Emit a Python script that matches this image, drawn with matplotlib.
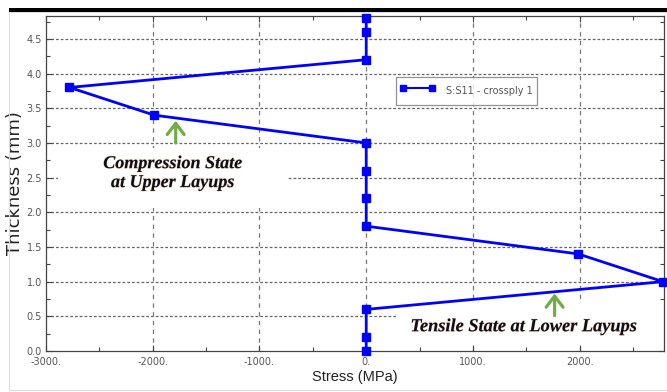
import matplotlib
matplotlib.use("Agg")
import matplotlib.pyplot as plt
from matplotlib.patches import Rectangle
from matplotlib.lines import Line2D
from matplotlib.ticker import MultipleLocator, FuncFormatter
import matplotlib.patheffects as pe

# S11 stress through the laminate thickness (crossply 1)
stress_mpa = [0, 0, 0, -2780, -1985, 0, 0, 0, 0, 1985, 2780, 0, 0, 0]
thickness_mm = [4.8, 4.6, 4.2, 3.8, 3.4, 3.0, 2.6, 2.2, 1.8, 1.4, 1.0, 0.6, 0.2, 0.0]
series_label = "S:S11 - crossply 1"
x_label = "Stress (MPa)"
y_label = "Thickness (mm)"
note_upper = "Compression State\nat Upper Layups"
note_lower = "Tensile State at Lower Layups"

W, H = 667, 392
fig = plt.figure(figsize=(W / 100, H / 100), dpi=100)
fig.patch.set_facecolor("white")

def px(x0, y0, x1, y1):
    return [x0 / W, 1 - y1 / H, (x1 - x0) / W, (y1 - y0) / H]

# thin frame and thick top bar around the figure
fig.add_artist(Rectangle((9 / W, 1 - 390 / H), (W - 9) / W, (390 - 12) / H,
                         transform=fig.transFigure, fill=False, ec="#dddddd", lw=0.8))
fig.add_artist(Rectangle((9 / W, 1 - 12.3 / H), (W - 9) / W, 4 / H,
                         transform=fig.transFigure, fc="black", ec="none"))

ax = fig.add_axes(px(46, 16, 664, 351))
ax.set_xlim(-3000, 2790)
ax.set_ylim(0, 4.83)

ax.xaxis.set_major_locator(MultipleLocator(1000))
ax.xaxis.set_minor_locator(MultipleLocator(500))
ax.yaxis.set_major_locator(MultipleLocator(0.5))
ax.yaxis.set_minor_locator(MultipleLocator(0.25))
ax.xaxis.set_major_formatter(FuncFormatter(lambda v, p: f"{v:.0f}."))
ax.yaxis.set_major_formatter(FuncFormatter(lambda v, p: f"{v:.1f}"))
ax.tick_params(which="both", direction="in", top=True, right=True,
               labelsize=7, labelcolor="#555555", color="#444444")
ax.tick_params(axis="x", pad=4.5)
ax.tick_params(axis="y", pad=3)
ax.tick_params(which="major", length=4, width=0.8)
ax.tick_params(which="minor", length=3, width=0.8)

for s in ax.spines.values():
    s.set_color("#444444")
    s.set_linewidth(0.9)

# grid: dotted horizontal, dashed vertical
ax.grid(False)
for yv in [0.5, 1.0, 1.5, 2.0, 2.5, 3.0, 3.5, 4.0, 4.5]:
    ax.axhline(yv, color="#666666", lw=0.9, ls=(0, (2.2, 1.6)), zorder=1)
for xv in [-2000, -1000, 0, 1000, 2000]:
    ax.axvline(xv, color="#777777", lw=0.9, ls=(0, (3.5, 3.5)), zorder=1)

# white panels behind the annotations
ax.add_patch(Rectangle((-2890, 2.06), 2150, 0.87, fc="white", ec="none", zorder=2))
ax.add_patch(Rectangle((290, 0.115), 2600, 0.62, fc="white", ec="none", zorder=2))

ax.plot(stress_mpa, thickness_mm, color="#0000ff", lw=2.0, marker="s",
        ms=5.5, mfc="#0000ff", mec="#0000ff", clip_on=False, zorder=5,
        label=series_label)

text_fx = [pe.withStroke(linewidth=0.9, foreground="#c08040", alpha=0.3)]
ax.text(-1815, 2.565, note_upper, ha="center", va="center", fontsize=13,
        family="Liberation Serif", style="italic", weight="bold",
        color="#0d0d1a", linespacing=1.15, zorder=6, path_effects=text_fx)
ax.text(1480, 0.35, note_lower, ha="center", va="center", fontsize=13.2,
        family="Liberation Serif", style="italic", weight="bold",
        color="#0d0d1a", zorder=6, path_effects=text_fx)

arrow_kw = dict(arrowstyle="->,head_length=0.5,head_width=0.38",
                color="#70ad47", lw=2.3, mutation_scale=16, shrinkA=0, shrinkB=0)
ax.annotate("", xy=(-1785, 3.32), xytext=(-1785, 3.0), arrowprops=arrow_kw, zorder=6)
ax.annotate("", xy=(1765, 0.83), xytext=(1765, 0.51), arrowprops=arrow_kw, zorder=6)

leg = ax.legend(handles=[Line2D([], [], color="#0000ff", lw=1.5, marker="s", ms=5)],
                labels=[series_label], loc="upper left",
                bbox_to_anchor=(350 / 618, 1 - 61 / 335), borderaxespad=0,
                frameon=True, fancybox=False, fontsize=7, numpoints=2,
                handlelength=3.6, handleheight=2.7, borderpad=0.45,
                handletextpad=1.1, labelcolor="#555555")
leg.get_frame().set_edgecolor("#777777")
leg.get_frame().set_linewidth(0.9)
leg.set_zorder(7)

ax.set_xlabel(x_label, fontsize=10.5, family="Liberation Sans", color="#222222")
ax.xaxis.set_label_coords(0.5, -(370 - 351) / 335)
ax.set_ylabel(y_label, fontsize=13, family="DejaVu Sans", color="#222222")
ax.yaxis.set_label_coords(-(46 - 24) / 618, 0.5)

fig.savefig("out.png", dpi=100)
